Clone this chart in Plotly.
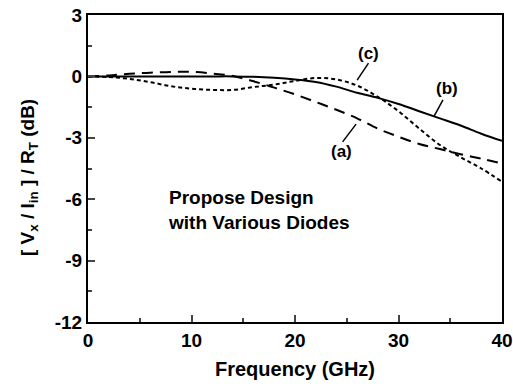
import plotly.graph_objects as go

freq = [0, 2, 4, 6, 8, 10, 12, 14, 16, 18, 20, 22, 24, 26, 28, 30, 32, 34, 36, 38, 40]
curve_a = [0, 0.05, 0.13, 0.18, 0.22, 0.22, 0.14, 0.02, -0.24, -0.55, -0.88, -1.25, -1.63,
           -2.05, -2.55, -2.95, -3.3, -3.55, -3.8, -4.02, -4.25]
curve_b = [0, 0, 0, 0, 0, 0, 0, 0, -0.02, -0.07, -0.15, -0.27, -0.5, -0.8, -1.05, -1.35,
           -1.7, -2.05, -2.4, -2.8, -3.15]
curve_c = [0, -0.03, -0.12, -0.28, -0.48, -0.6, -0.66, -0.66, -0.52, -0.4, -0.22, -0.08,
           -0.15, -0.45, -1.0, -1.7, -2.55, -3.35, -3.95, -4.5, -5.15]

y_ticks = [3, 0, -3, -6, -9, -12]
y_ticktext = ["3", "0", "-3", "-6", "-9", "-12"]
x_ticks = [0, 10, 20, 30, 40]

labels = [("(a)", 24.5, -3.69, 24.6, -3.2, 25.9, -2.33),
          ("(b)", 34.7, -0.57, 34.3, -1.15, 33.4, -1.98),
          ("(c)", 27.1, 1.14, 27.1, 0.65, 26.0, -0.18)]

FONT = "Liberation Sans, Arial, sans-serif"

fig = go.Figure()
fig.add_trace(go.Scatter(x=freq, y=curve_a, mode="lines", line_shape="spline",
                         line=dict(color="black", width=2, dash="11px,7px")))
fig.add_trace(go.Scatter(x=freq, y=curve_b, mode="lines", line_shape="spline",
                         line=dict(color="black", width=2)))
fig.add_trace(go.Scatter(x=freq, y=curve_c, mode="lines", line_shape="spline",
                         line=dict(color="black", width=2, dash="4px,3px")))

for txt, tx, ty, x0, y0, x1, y1 in labels:
    fig.add_annotation(x=tx, y=ty, text=txt, showarrow=False,
                       font=dict(family=FONT, size=17, color="black", weight="bold"))
    fig.add_shape(type="line", x0=x0, y0=y0, x1=x1, y1=y1,
                  line=dict(color="black", width=1.5))

fig.add_annotation(x=7.5, y=-6.55, xanchor="left", yanchor="middle", align="left",
                   text="Propose Design<br>with Various Diodes", showarrow=False,
                   font=dict(family=FONT, size=19, color="black", weight="bold"))

fig.add_annotation(xref="paper", yref="paper", x=-0.178, y=0.47, textangle=-90,
                   text="[ V<sub>x</sub> / I<sub>in</sub> ] / R<sub>T</sub> (dB)",
                   showarrow=False,
                   font=dict(family=FONT, size=19, color="black", weight="bold"))

fig.update_layout(
    width=513, height=387,
    margin=dict(l=88, r=11, t=15, b=65, autoexpand=False),
    paper_bgcolor="white", plot_bgcolor="white",
    showlegend=False,
    font=dict(family=FONT, color="black"),
)
fig.update_xaxes(range=[0, 40], tickvals=x_ticks, ticks="inside", ticklen=7, tickwidth=1.5,
                 showline=True, linewidth=2, linecolor="black", mirror=True,
                 showgrid=False, zeroline=False, automargin=False,
                 minor=dict(dtick=5, ticks="inside", ticklen=4, tickwidth=1.5),
                 tickfont=dict(family=FONT, size=19, color="black", weight="bold"),
                 title=dict(text="Frequency (GHz)", standoff=12,
                            font=dict(family=FONT, size=20, color="black", weight="bold")))
fig.update_yaxes(range=[-12, 3], tickvals=y_ticks, ticktext=y_ticktext, ticks="inside",
                 ticklen=7, tickwidth=1.5, automargin=False,
                 showline=True, linewidth=2, linecolor="black", mirror=True,
                 showgrid=False, zeroline=False,
                 minor=dict(dtick=1.5, ticks="inside", ticklen=4, tickwidth=1.5),
                 tickfont=dict(family=FONT, size=19, color="black", weight="bold"))

fig.write_html("out.html", config={"displayModeBar": False},
               post_script="document.body.style.margin='0px';")
